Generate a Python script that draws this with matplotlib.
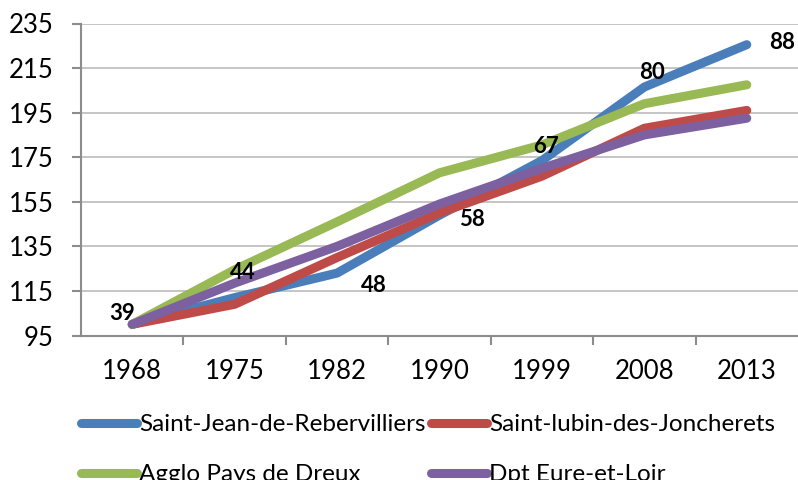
import matplotlib.pyplot as plt
import matplotlib.patheffects as pe
import numpy as np

years = ['1968', '1975', '1982', '1990', '1999', '2008', '2013']
series_names = ['Saint-Jean-de-Rebervilliers', 'Saint-lubin-des-Joncherets',
                'Agglo Pays de Dreux', 'Dpt Eure-et-Loir']
saint_jean = [100, 112, 123, 149, 173.5, 206.5, 225.5]
saint_lubin = [100, 109, 130, 150, 166.5, 188, 196]
agglo = [100, 124.5, 146, 168, 180.5, 199, 207.5]
dpt = [100, 118.5, 135, 154, 170, 185, 192.5]
labels = ['39', '44', '48', '58', '67', '80', '88']
# label offsets in pixels from the blue points
label_dx = [-10, 8, 37, 33, 4, 8, 35]
label_dy = [11, 25, -12, -4, 14, 15, 2]

colors = ['#4a7ebb', '#be4b48', '#98b954', '#7d60a0']
yticks = np.arange(95, 236, 20)

plt.rcParams['font.family'] = ['Lato', 'DejaVu Sans']

fig = plt.figure(figsize=(7.98, 4.8), dpi=100)
ax = fig.add_axes([81 / 798, 1 - 335.5 / 480, (798 - 81) / 798, (335.5 - 23.5) / 480])

x = np.arange(len(years))
lines = []
for vals, name, c in zip([saint_jean, saint_lubin, agglo, dpt], series_names, colors):
    ln, = ax.plot(x, vals, color=c, lw=6.5, solid_capstyle='round', solid_joinstyle='round',
                  label=name, zorder=3)
    lines.append(ln)

for i, lab in enumerate(labels):
    ax.annotate(lab, (x[i], saint_jean[i]), xytext=(label_dx[i] * 0.72, label_dy[i] * 0.72),
                textcoords='offset points', ha='center', va='center',
                fontsize=16, fontweight='bold', zorder=5, annotation_clip=False)

ax.set_xlim(-0.5, 6.5)
ax.set_ylim(95, 235)
ax.set_yticks(yticks)
ax.set_yticklabels([str(v) for v in yticks], fontsize=18.5)
ax.set_xticks(x)
ax.set_xticklabels(years, fontsize=18.5)
ax.set_xticks(np.arange(0.5, 6.5, 1), minor=True)
ax.tick_params(axis='x', which='major', length=0, pad=17)
ax.tick_params(axis='x', which='minor', length=6.5, color='#8c8c8c', width=1.5, direction='out')
ax.tick_params(axis='y', length=6.5, color='#8c8c8c', width=1.5, pad=13)

ax.grid(axis='y', color='#c0c0c0', lw=1.3, zorder=0)
for s in ['top', 'right']:
    ax.spines[s].set_visible(False)
for s in ['left', 'bottom']:
    ax.spines[s].set_color('#8c8c8c')
    ax.spines[s].set_linewidth(1.5)
    ax.spines[s].set_path_effects([pe.SimplePatchShadow(offset=(1.5, -2.5), alpha=0.25),
                                   pe.Normal()])

# legend rows: Saint-Jean / Saint-lubin, then Agglo / Dpt
order = [0, 2, 1, 3]
fig.legend([lines[i] for i in order], [series_names[i] for i in order],
           loc='upper left', bbox_to_anchor=(81 / 798, 1 - 414 / 480), ncol=2, frameon=False,
           fontsize=17.5, handlelength=2.3, handletextpad=0.08, columnspacing=0.25,
           labelspacing=1.2, borderpad=0, borderaxespad=0)

fig.savefig('out.png', dpi=100)
